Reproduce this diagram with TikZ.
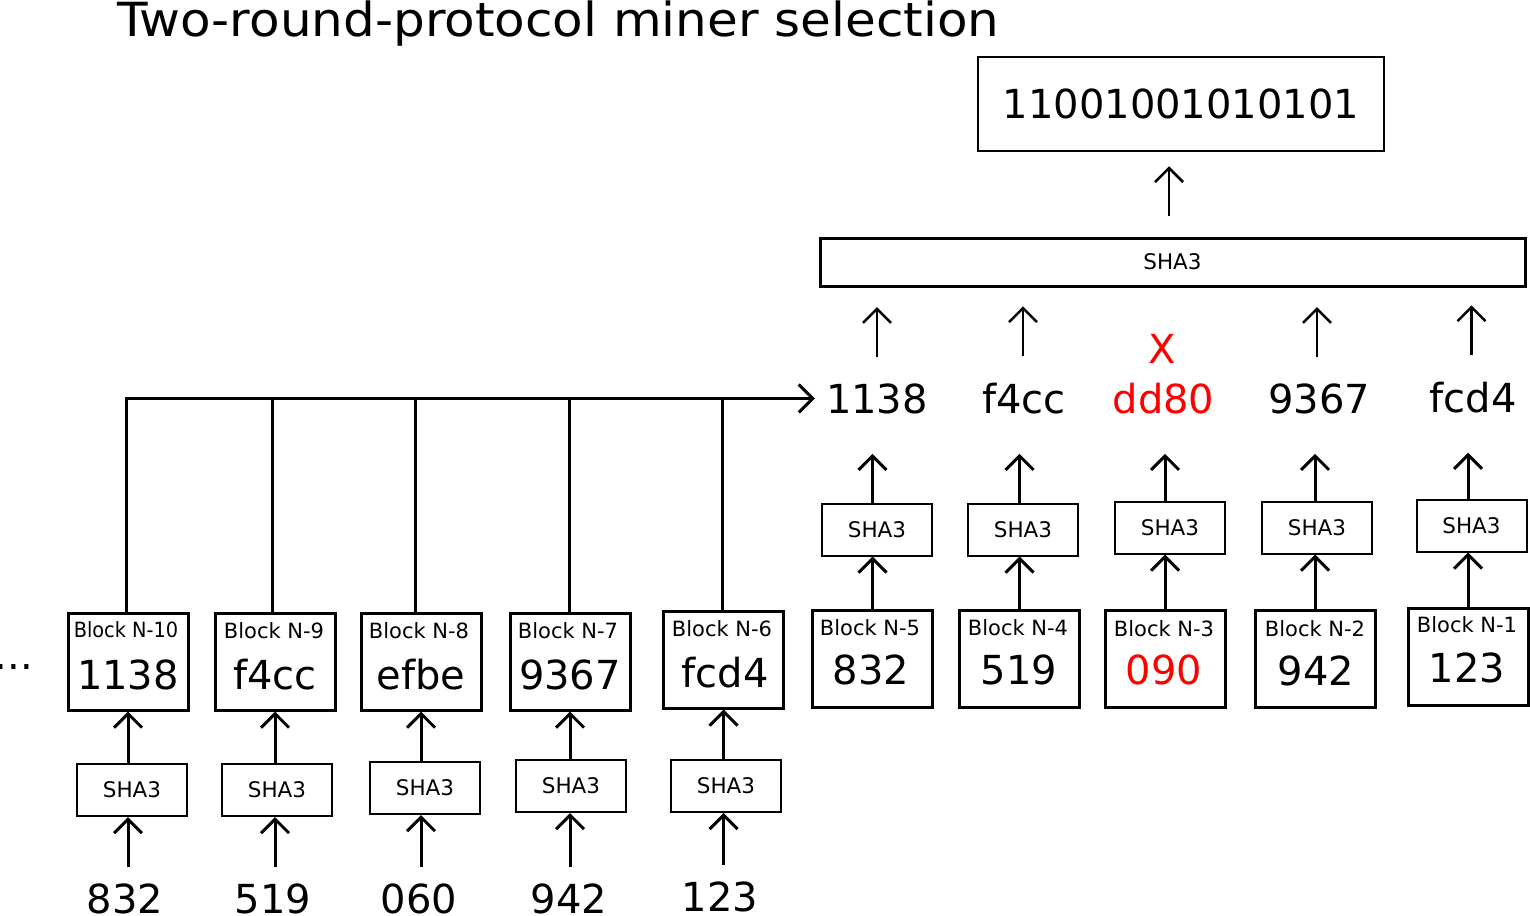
\documentclass[tikz,border=0pt]{standalone}
\usepackage{fontspec}
\setmainfont{DejaVu Sans}
\usetikzlibrary{arrows.meta}
\begin{document}
\begin{tikzpicture}[x=1pt,y=-1pt,
  blk/.style={draw,line width=3pt,minimum width=120pt,minimum height=97pt,inner sep=0pt},
  sha/.style={draw,line width=2pt,minimum width=110pt,minimum height=52pt,inner sep=0pt,font=\fontsize{21.5}{25}\selectfont},
  lbl/.style={anchor=base,inner sep=0pt,font=\fontsize{21}{25}\selectfont},
  val/.style={anchor=base,inner sep=0pt,font=\fontsize{40}{48}\selectfont},
  arr/.style={line width=3pt,-{Straight Barb[length=14pt,width=28pt]}},
  arrt/.style={line width=2.5pt,-{Straight Barb[length=14pt,width=28pt]}},
  bus/.style={line width=3pt},
]
\useasboundingbox (0,0) rectangle (1530,915);

% title
\node[anchor=base west,inner sep=0pt,font=\fontsize{47}{56}\selectfont] (title) at (117,37) {\scalebox{1.064}[1]{Two-round-protocol miner selection}};

% blocks
\node[blk] (b10) at (128,661.5) {};
\node[blk] (b9) at (275,661.5) {};
\node[blk] (b8) at (421,661.5) {};
\node[blk] (b7) at (570,661.5) {};
\node[blk] (b6) at (723.5,659.5) {};
\node[blk] (b5) at (872.5,658.5) {};
\node[blk] (b4) at (1019.5,658.5) {};
\node[blk] (b3) at (1165,658.5) {};
\node[blk] (b2) at (1315,658.5) {};
\node[blk] (b1) at (1468,656.5) {};

\node[lbl] (l10) at (126,637) {\scalebox{0.92}[1]{Block N-10}};
\node[lbl] (l9) at (274,638) {Block N-9};
\node[lbl] (l8) at (419,638) {Block N-8};
\node[lbl] (l7) at (568,638) {Block N-7};
\node[lbl] (l6) at (722,636) {Block N-6};
\node[lbl] (l5) at (870,635) {Block N-5};
\node[lbl] (l4) at (1018,635) {Block N-4};
\node[lbl] (l3) at (1164,636) {Block N-3};
\node[lbl] (l2) at (1315,636) {Block N-2};
\node[lbl] (l1) at (1467,632) {Block N-1};

\node[val] (v10) at (128,689) {1138};
\node[val] (v9) at (275,689) {f4cc};
\node[val] (v8) at (421,689) {efbe};
\node[val] (v7) at (570,689) {9367};
\node[val] (v6) at (725,687) {fcd4};
\node[val] (v5) at (871,684) {832};
\node[val] (v4) at (1019,684) {519};
\node[val,text=red] (v3) at (1164,684) {090};
\node[val] (v2) at (1316,685) {942};
\node[val] (v1) at (1467,682) {123};

\node[val,anchor=base east] (dots) at (33,669) {...};

% lower SHA3 boxes (left)
\node[sha] (s10) at (132,790) {SHA3};
\node[sha] (s9) at (277,790) {SHA3};
\node[sha] (s8) at (425,788) {SHA3};
\node[sha] (s7) at (571,786) {SHA3};
\node[sha] (s6) at (726,786) {SHA3};

% inputs
\node[val] (i10) at (125,913) {832};
\node[val] (i9) at (273,913) {519};
\node[val] (i8) at (419,913) {060};
\node[val] (i7) at (569,913) {942};
\node[val] (i6) at (720,911) {123};

% upper SHA3 boxes (right)
\node[sha] (u5) at (877,529.5) {SHA3};
\node[sha] (u4) at (1023,529.5) {SHA3};
\node[sha] (u3) at (1170,527.5) {SHA3};
\node[sha] (u2) at (1317,527.5) {SHA3};
\node[sha] (u1) at (1471.5,525.5) {SHA3};

% middle values
\node[val] (m5) at (877,413) {1138};
\node[val] (m4) at (1024,413) {f4cc};
\node[val,text=red] (m3) at (1163.5,413) {dd80};
\node[val] (m2) at (1319,413) {9367};
\node[val] (m1) at (1473,412) {fcd4};
\node[val,text=red] (x3) at (1162,363) {X};

% big SHA3 and result
\node[draw,line width=3pt,minimum width=705pt,minimum height=48pt,inner sep=0pt,font=\fontsize{21.5}{25}\selectfont] (big) at (1172.5,262) {SHA3};
\node[draw,line width=2.5pt,minimum width=406pt,minimum height=94pt,inner sep=0pt,font=\fontsize{40}{48}\selectfont] (res) at (1181,104) {11001001010101};

% left column arrows
\foreach \n in {10,9,8,7,6}{
  \draw[arr] ([yshift=16pt]i\n.north -| b\n) -- (s\n.south -| b\n);
  \draw[arr] (s\n.north -| b\n) -- (b\n.south);
}

% bus
\draw[arr] ([xshift=-2pt]b10.north) |- ([xshift=-11pt]m5.west);
\draw[bus] ([xshift=-3pt]b9.north) -- ([xshift=-3pt]b9.north |- m5.west);
\draw[bus] ([xshift=-6pt]b8.north) -- ([xshift=-6pt]b8.north |- m5.west);
\draw[bus] ([xshift=-1pt]b7.north) -- ([xshift=-1pt]b7.north |- m5.west);
\draw[bus] ([xshift=-1.5pt]b6.north) -- ([xshift=-1.5pt]b6.north |- m5.west);

% right column arrows
\foreach \n in {5,4,3,2,1}{
  \draw[arr] (b\n.north) -- (b\n.north |- u\n.south);
  \draw[arr] (u\n.north -| b\n) -- ([yshift=-40pt]m\n.south -| b\n);
}
\foreach \n in {5,4,2,1}{
  \draw[arrt] ([yshift=26pt]m\n.north -| u\n) -- ([yshift=76pt]m\n.north -| u\n);
}

% top arrow
\draw[arrt] ([xshift=-12pt]res.south |- big.north) ++(0,-21) -- ([xshift=-12pt,yshift=-14pt]res.south);
\end{tikzpicture}
\end{document}
